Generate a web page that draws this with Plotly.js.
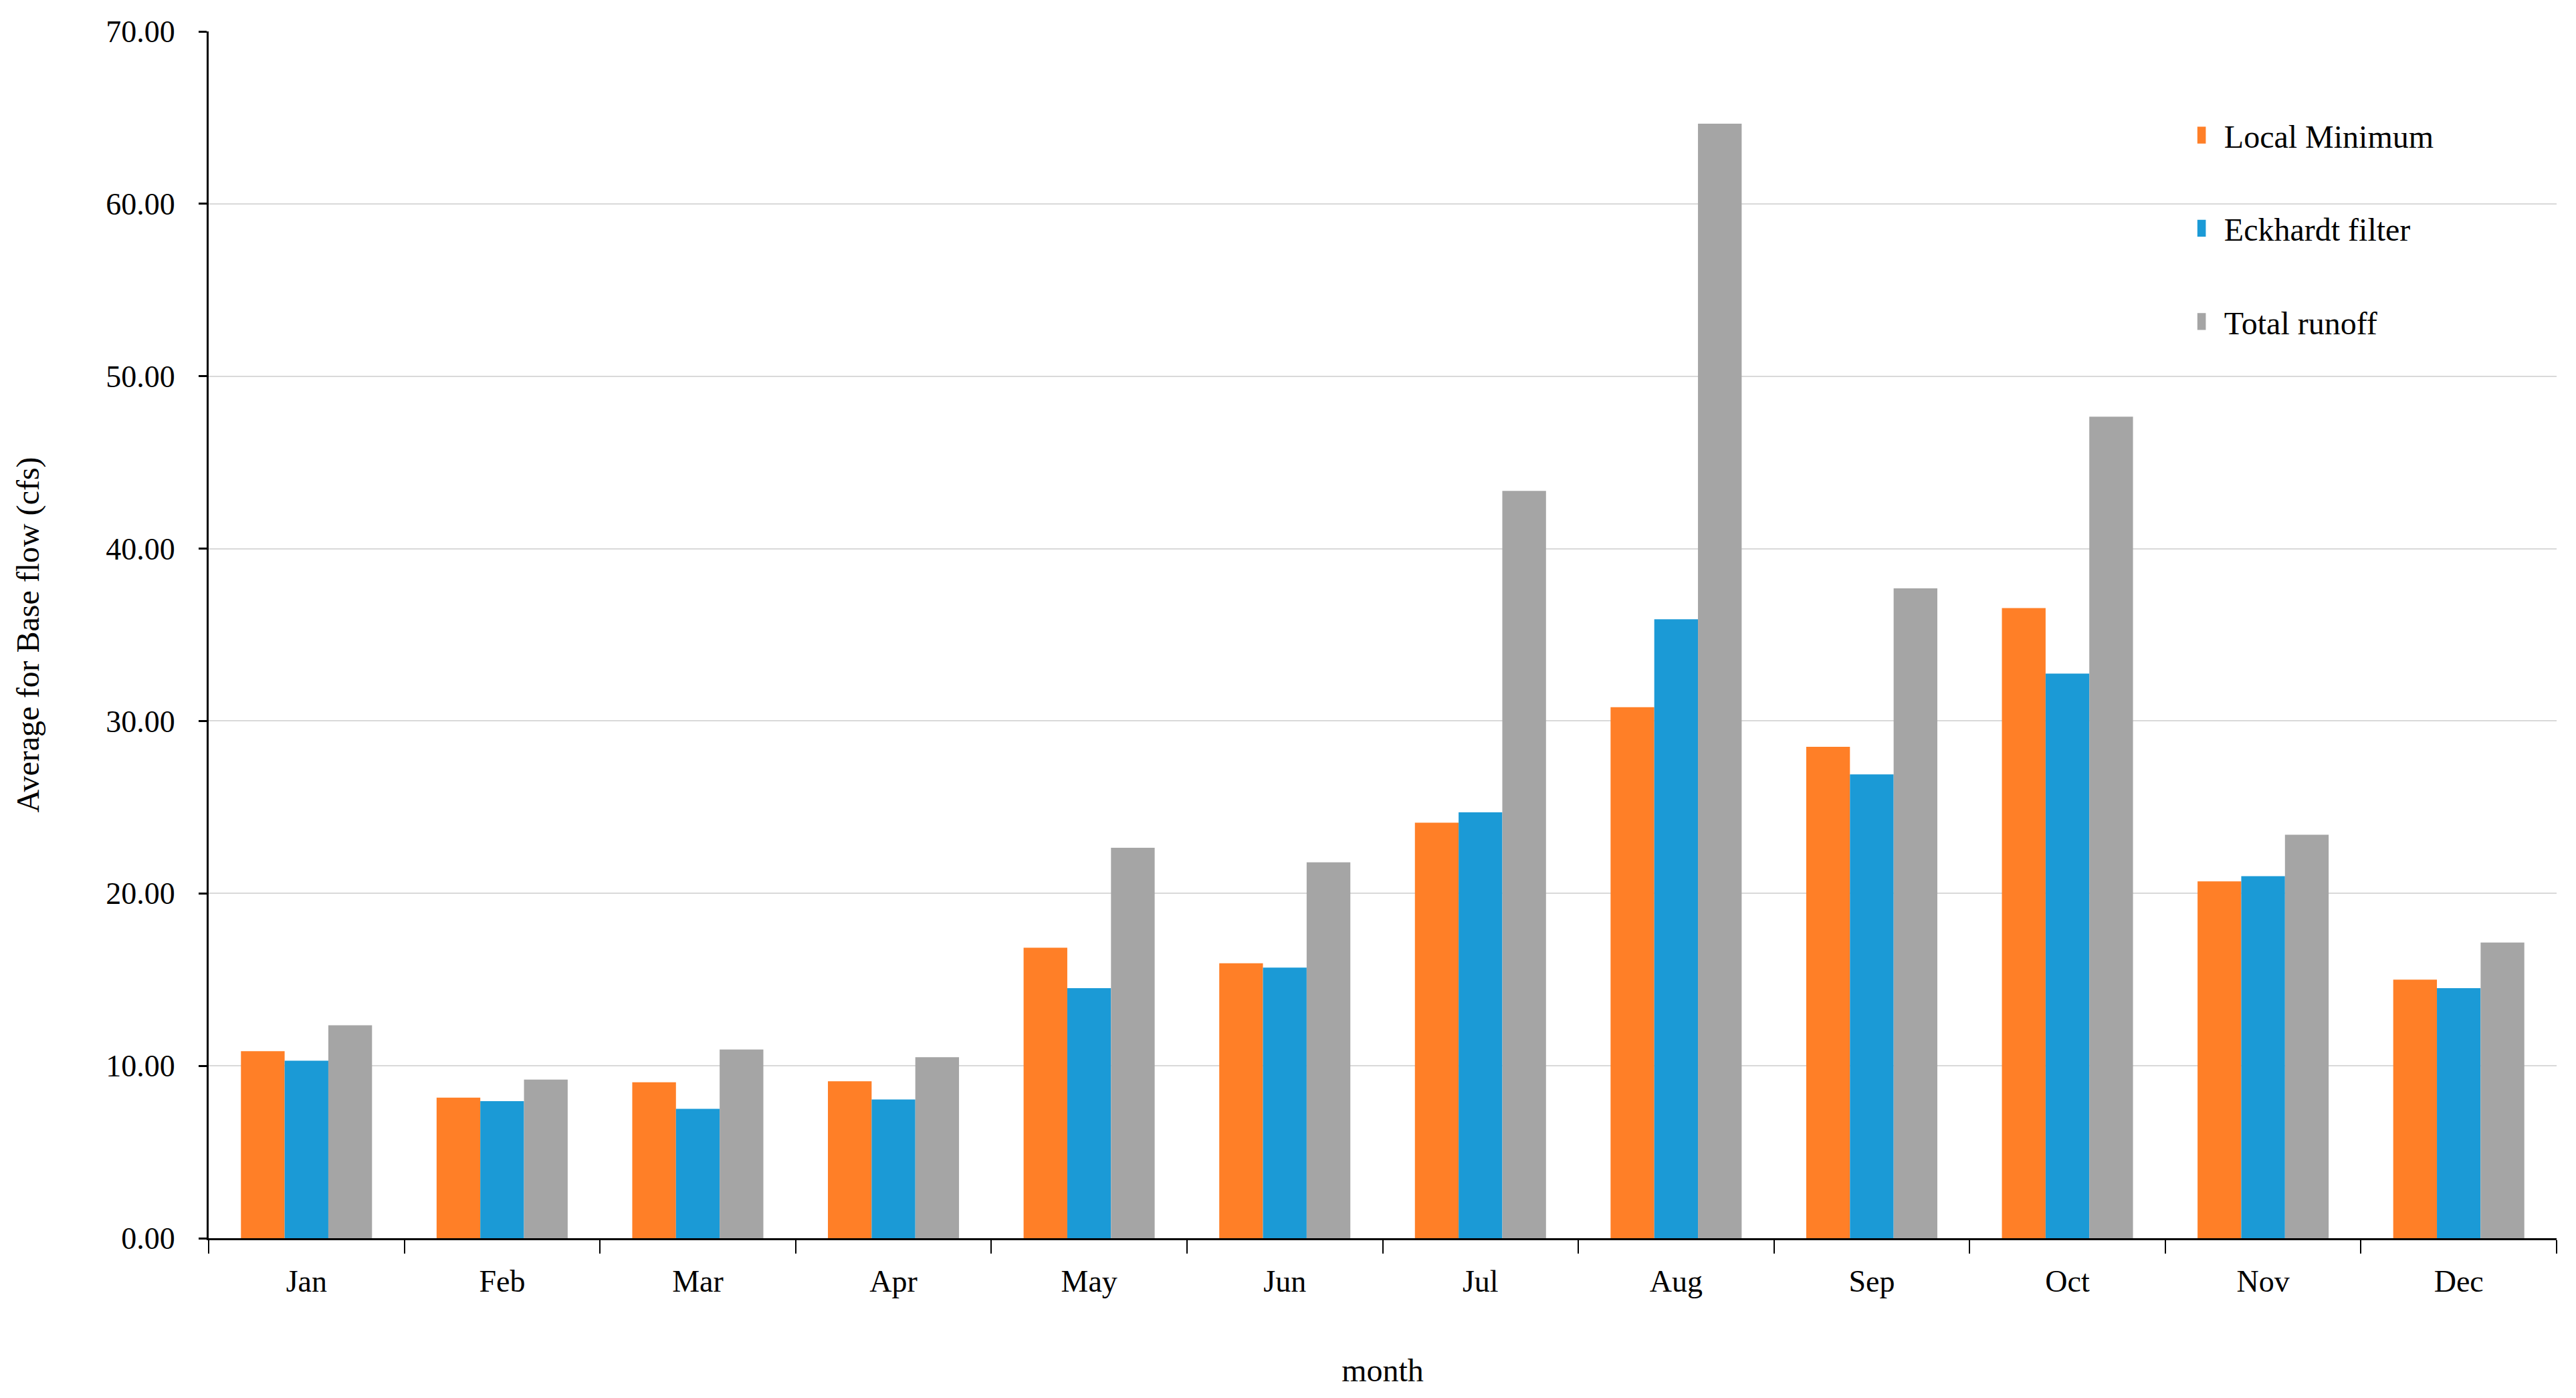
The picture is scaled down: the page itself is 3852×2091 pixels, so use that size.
<!DOCTYPE html>
<html>
<head>
<meta charset="utf-8">
<script src="https://cdn.plot.ly/plotly-3.0.1.min.js"></script>
<style>
html,body{margin:0;padding:0;background:#fff;}
#chart{width:3852px;height:2091px;}
#chart .legend .legendsymbols path, #chart .legend .legendpoints path { transform: scale(2.1); }
</style>
</head>
<body>
<div id="chart"></div>
<script>
const months = ["Jan","Feb","Mar","Apr","May","Jun","Jul","Aug","Sep","Oct","Nov","Dec"];
const localMinimum = [10.85, 8.15, 9.05, 9.10, 16.85, 15.95, 24.10, 30.80, 28.50, 36.55, 20.70, 15.00];
const eckhardtFilter = [10.30, 7.95, 7.50, 8.05, 14.50, 15.70, 24.70, 35.90, 26.90, 32.75, 21.00, 14.50];
const totalRunoff = [12.35, 9.20, 10.95, 10.50, 22.65, 21.80, 43.35, 64.65, 37.70, 47.65, 23.40, 17.15];
const seriesNames = ["Local Minimum", "Eckhardt filter", "Total runoff"];
const yTickVals = [0, 10, 20, 30, 40, 50, 60, 70];

const colors = ["#FF7F27", "#1B9AD6", "#A5A5A5"];
const font = {family: "Liberation Serif, Times New Roman, serif", color: "#000"};

const traces = [localMinimum, eckhardtFilter, totalRunoff].map((vals, i) => ({
  type: "bar",
  x: months,
  y: vals,
  name: seriesNames[i],
  legendgroup: "g" + i,
  marker: {color: colors[i], line: {width: 0}},
  hoverinfo: "x+y+name"
}));

const layout = {
  width: 3852,
  height: 2091,
  paper_bgcolor: "#fff",
  plot_bgcolor: "#fff",
  margin: {l: 312, r: 29, t: 47, b: 239},
  barmode: "group",
  bargap: 0.33,
  bargroupgap: 0,
  showlegend: true,
  font: Object.assign({size: 46}, font),
  legend: {
    x: 0.847, y: 0.935, xanchor: "left", yanchor: "top",
    font: Object.assign({size: 48}, font),
    tracegroupgap: 74,
    bgcolor: "rgba(0,0,0,0)",
    itemclick: false
  },
  xaxis: {
    type: "category",
    showline: true, linecolor: "#000", linewidth: 3,
    ticks: "outside", tickson: "boundaries", ticklen: 20, tickwidth: 2, tickcolor: "#000",
    ticklabelstandoff: 22,
    tickfont: Object.assign({size: 46}, font),
    showgrid: false, zeroline: false,
    automargin: false,
    title: {text: "month", font: Object.assign({size: 48}, font), standoff: 92}
  },
  yaxis: {
    range: [0, 70],
    tickvals: yTickVals,
    tickformat: ".2f",
    showline: true, linecolor: "#000", linewidth: 3,
    ticks: "outside", ticklen: 12, tickwidth: 3, tickcolor: "#000",
    ticklabelstandoff: 26,
    tickfont: Object.assign({size: 46}, font),
    showgrid: true, gridcolor: "#D9D9D9", gridwidth: 2,
    zeroline: false,
    automargin: false,
    title: {text: "Average for Base flow (cfs)", font: Object.assign({size: 48}, font), standoff: 85}
  }
};

Plotly.newPlot("chart", traces, layout, {displayModeBar: false, staticPlot: true});
</script>
</body>
</html>
